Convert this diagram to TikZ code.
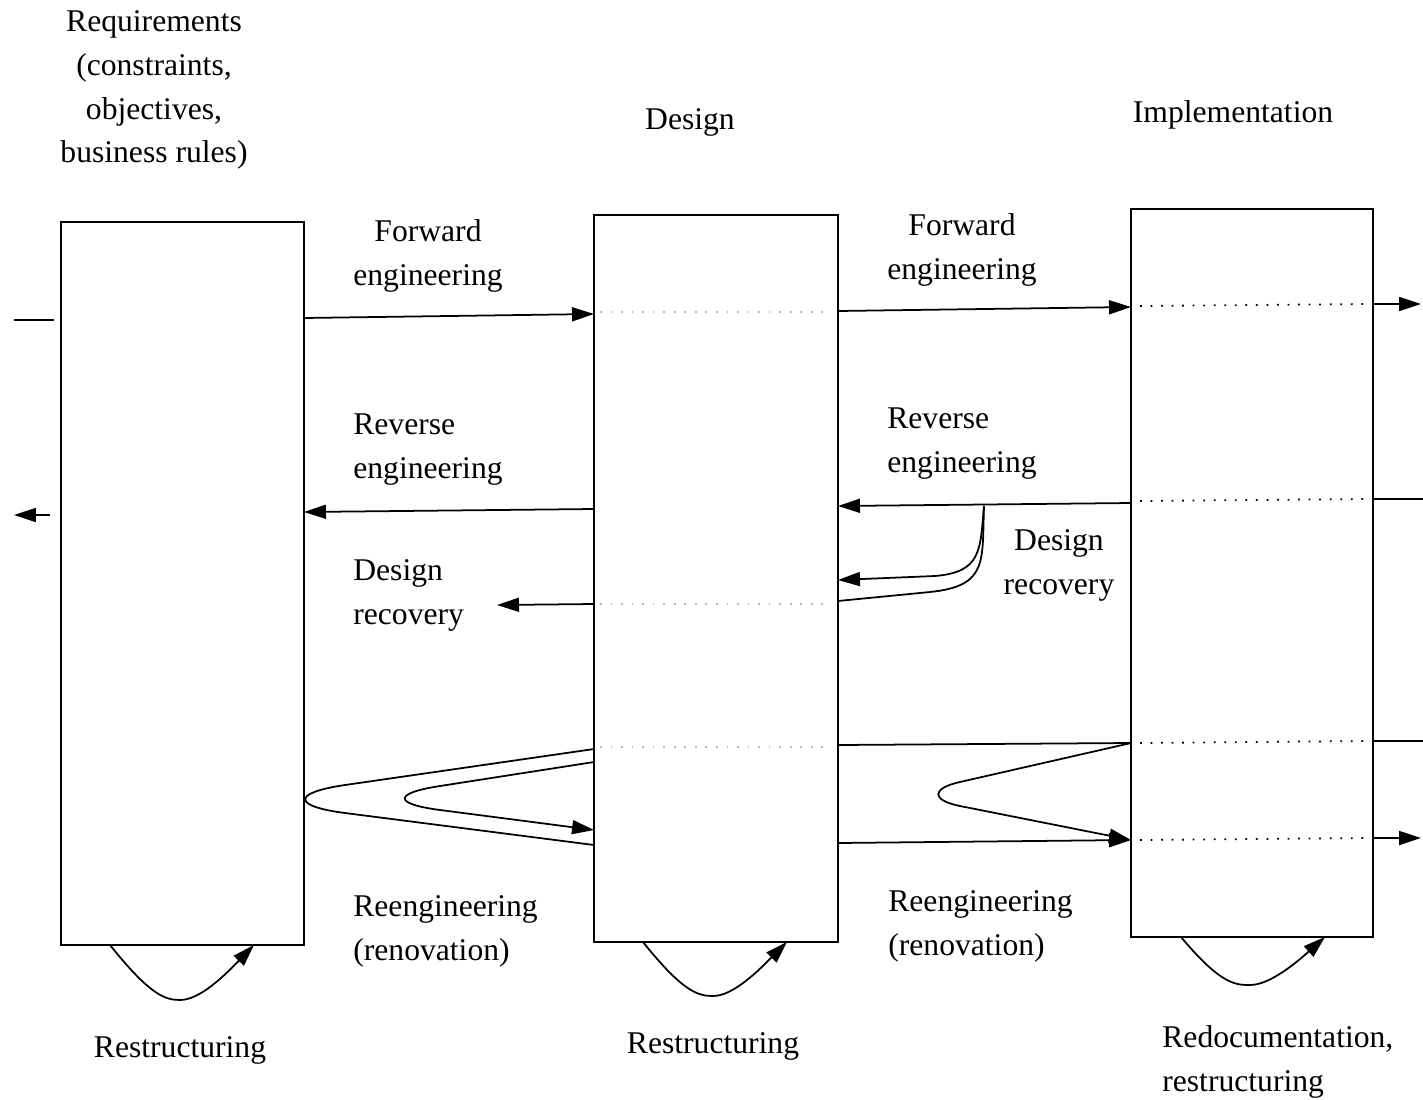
\documentclass[tikz,border=0pt]{standalone}
\usepackage{fontspec}
\setmainfont{Liberation Serif}
\usetikzlibrary{arrows.meta}
\begin{document}
\begin{tikzpicture}[x=0.02cm,y=-0.02cm,
  box/.style={draw, line width=1pt, inner sep=0pt, outer sep=0pt},
  conn/.style={line width=1pt},
  arr/.style={conn, -{Triangle[length=4.4mm,width=2.8mm]}},
  dotline/.style={line width=1pt, dash pattern=on 1pt off 5pt},
  faintdots/.style={dotline, gray!55},
  lab/.style={font=\fontsize{18}{25}\selectfont, inner sep=0pt}]
\useasboundingbox (0,0) rectangle (1423,1099);

% boxes
\node[box, minimum width=4.86cm, minimum height=14.46cm] (req) at (182.5,583.5) {};
\node[box, minimum width=4.88cm, minimum height=14.54cm] (des) at (716,578.5) {};
\node[box, minimum width=4.84cm, minimum height=14.56cm] (imp) at (1252,573) {};

% titles
\node[lab, align=center] (reqt) at (154,90) {Requirements\\(constraints,\\objectives,\\business rules)};
\node[lab] (dest) at (690,122) {Design};
\node[lab] (impt) at (1233,115) {Implementation};

% labels
\node[lab, align=center] (fe1) at (428,256) {Forward\\engineering};
\node[lab, align=left, anchor=west] (re1) at (353,450) {Reverse\\engineering};
\node[lab, align=left, anchor=west] (dr1) at (353,595) {Design\\recovery};
\node[lab, align=left, anchor=west] (rr1) at (353,931) {Reengineering\\(renovation)};
\node[lab, align=center] (fe2) at (962,250) {Forward\\engineering};
\node[lab, align=left, anchor=west] (re2) at (887,444) {Reverse\\engineering};
\node[lab, align=center] (dr2) at (1059,565) {Design\\recovery};
\node[lab, align=left, anchor=west] (rr2) at (888,926) {Reengineering\\(renovation)};
\node[lab] (rs1) at (180,1050) {Restructuring};
\node[lab] (rs2) at (713,1046) {Restructuring};
\node[lab, align=left, anchor=west] (rd) at (1162,1062) {Redocumentation,\\restructuring};

% left side stubs
\coordinate (l1a) at (14,320);
\coordinate (l1b) at (54,320);
\draw[conn] (l1a) -- (l1b);
\coordinate (l2a) at (50,515);
\coordinate (l2b) at (14,515);
\draw[arr] (l2a) -- (l2b);

% forward engineering
\draw[arr] (req.east |- 0,318) -- (des.west |- 0,314);
\draw[arr] (des.east |- 0,311) -- (imp.west |- 0,307);
\coordinate (r1) at (1421,304);
\draw[arr] (imp.east |- 0,304) -- (r1);

% reverse engineering
\draw[arr] (des.west |- 0,509) -- (req.east |- 0,512);
\draw[arr] (imp.west |- 0,503) -- (des.east |- 0,506);
\coordinate (r2) at (1423,499);
\draw[conn] (imp.east |- 0,499) -- (r2);

% design recovery
\coordinate (dr1end) at (497,605);
\draw[arr] (des.west |- 0,604) -- (dr1end);
\coordinate (drtop) at (984,506);
\draw[arr] (drtop) .. controls (980,550) and (982,572) .. (935,576) -- (des.east |- 0,580);
\draw[conn] (drtop) .. controls (982,562) and (988,586) .. (930,592) -- (des.east |- 0,601);

% reengineering 1
\draw[conn] (des.west |- 0,749) -- (345,785)
  .. controls (292,792.7) and (292,806.2) .. (345,813) -- (des.west |- 0,845);
\draw[arr] (des.west |- 0,762) -- (440,786)
  .. controls (393,793.2) and (393,803.9) .. (440,810) -- (des.west |- 0,830);

% reengineering 2
\draw[conn] (des.east |- 0,745) -- (imp.west |- 0,743);
\draw[arr] (imp.west |- 0,743) -- (960,782)
  .. controls (931,788.4) and (931,800.2) .. (960,806) -- (imp.west |- 0,840);
\draw[arr] (des.east |- 0,843) -- (imp.west |- 0,840);
\coordinate (r3) at (1423,741);
\draw[conn] (imp.east |- 0,741) -- (r3);
\coordinate (r4) at (1421,838);
\draw[arr] (imp.east |- 0,838) -- (r4);

% dotted lines inside boxes
\draw[faintdots] (600,312) -- (830,312);
\draw[faintdots] (600,604) -- (830,604);
\draw[faintdots] (600,747) -- (830,747);
\draw[dotline] (1140,306) -- (1366,304);
\draw[dotline] (1140,501) -- (1366,499);
\draw[dotline] (1140,743) -- (1366,741);
\draw[dotline] (1140,840) -- (1366,838);

% restructuring loops
\draw[arr] (110,945) .. controls (150,995) and (165,1000) .. (180,1000)
  .. controls (200,1000) and (225,975) .. (req.south -| 254,0);
\draw[arr] (643,942) .. controls (683,992) and (698,996) .. (713,996)
  .. controls (733,996) and (758,971) .. (des.south -| 787,0);
\draw[arr] (1181,937) .. controls (1221,985) and (1236,985) .. (1250,985)
  .. controls (1270,985) and (1297,962) .. (imp.south -| 1325,0);
\end{tikzpicture}
\end{document}
